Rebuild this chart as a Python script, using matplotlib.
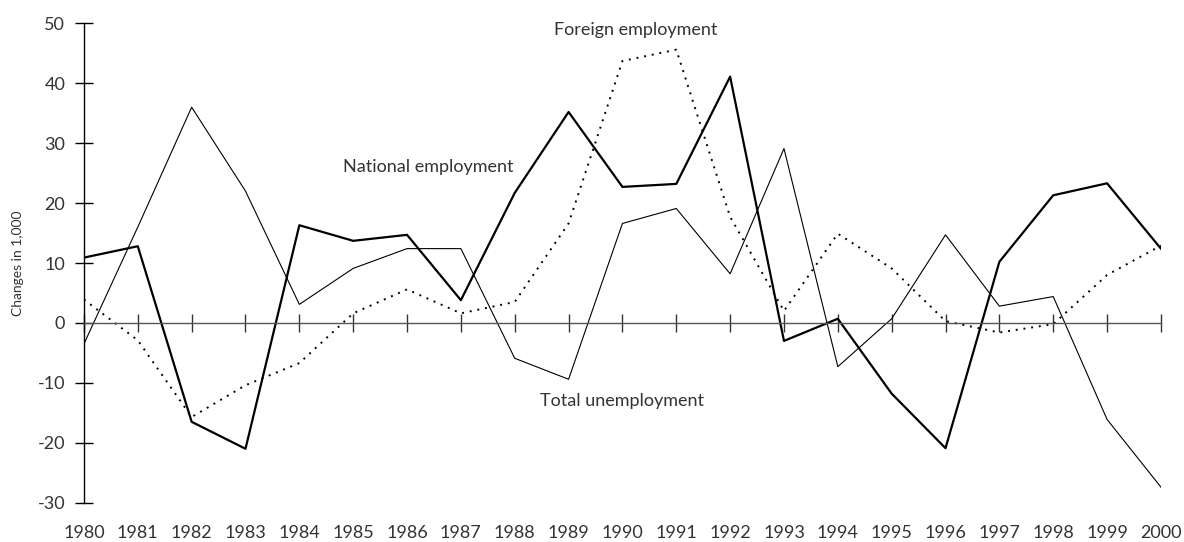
import matplotlib.pyplot as plt

plt.rcParams['font.family'] = ['Lato', 'DejaVu Sans']
plt.rcParams['axes.unicode_minus'] = False

years = list(range(1980, 2001))
national = [10.9, 12.8, -16.5, -21.0, 16.3, 13.7, 14.7, 3.8, 21.7, 35.2, 22.7,
            23.2, 41.1, -3.0, 0.7, -11.8, -20.9, 10.2, 21.3, 23.3, 12.4]
unemployment = [-3.5, 16.0, 36.0, 22.0, 3.1, 9.1, 12.4, 12.4, -5.9, -9.4, 16.6,
                19.1, 8.2, 29.1, -7.3, 0.7, 14.7, 2.8, 4.4, -16.1, -27.4]
foreign = [3.9, -2.9, -15.7, -10.4, -6.7, 1.6, 5.6, 1.6, 3.5, 16.6, 43.7,
           45.6, 17.7, 2.0, 14.9, 9.1, 0.3, -1.6, -0.2, 8.0, 12.9]
yticks = [-30, -20, -10, 0, 10, 20, 30, 40, 50]

txt = '#333333'

fig = plt.figure(figsize=(11.84, 5.42), dpi=100)
ax = fig.add_axes([0.0709, 0.0725, 0.9096, 0.8845])

ax.plot(years, unemployment, color='black', lw=0.8)
ax.plot(years, foreign, color='black', lw=1.4, linestyle=(0, (1.0, 3.0)))
ax.plot(years, national, color='black', lw=1.6)

ax.set_xlim(1980, 2000)
ax.set_ylim(-30, 50)

# x axis drawn at zero, year labels at the bottom
ax.spines['top'].set_visible(False)
ax.spines['right'].set_visible(False)
ax.spines['bottom'].set_position(('data', 0))
ax.spines['bottom'].set_color('#555555')
ax.spines['bottom'].set_linewidth(1.0)
ax.spines['left'].set_linewidth(1.0)
ax.set_xticks(years)
ax.tick_params(axis='x', direction='inout', length=13, width=1.0,
               color='#333333', labelbottom=False)
ax.set_yticks(yticks)
ax.tick_params(axis='y', direction='inout', length=13, width=1.0,
               labelsize=13, labelcolor=txt, pad=7)

sec = ax.secondary_xaxis('bottom')
sec.set_xticks(years)
sec.set_xticklabels([str(y) for y in years])
sec.tick_params(length=0, labelsize=13, labelcolor=txt, pad=16)
sec.spines['bottom'].set_visible(False)

ax.set_ylabel('Changes in 1,000', fontsize=10, color=txt)
ax.yaxis.set_label_coords(-0.056, 0.5)

ax.text(1990.25, 48.8, 'Foreign employment', ha='center', va='center',
        fontsize=13, color=txt)
ax.text(1986.4, 26.0, 'National employment', ha='center', va='center',
        fontsize=13, color=txt)
ax.text(1990.0, -13.0, 'Total unemployment', ha='center', va='center',
        fontsize=13, color=txt)

fig.savefig('out.png', dpi=100)
